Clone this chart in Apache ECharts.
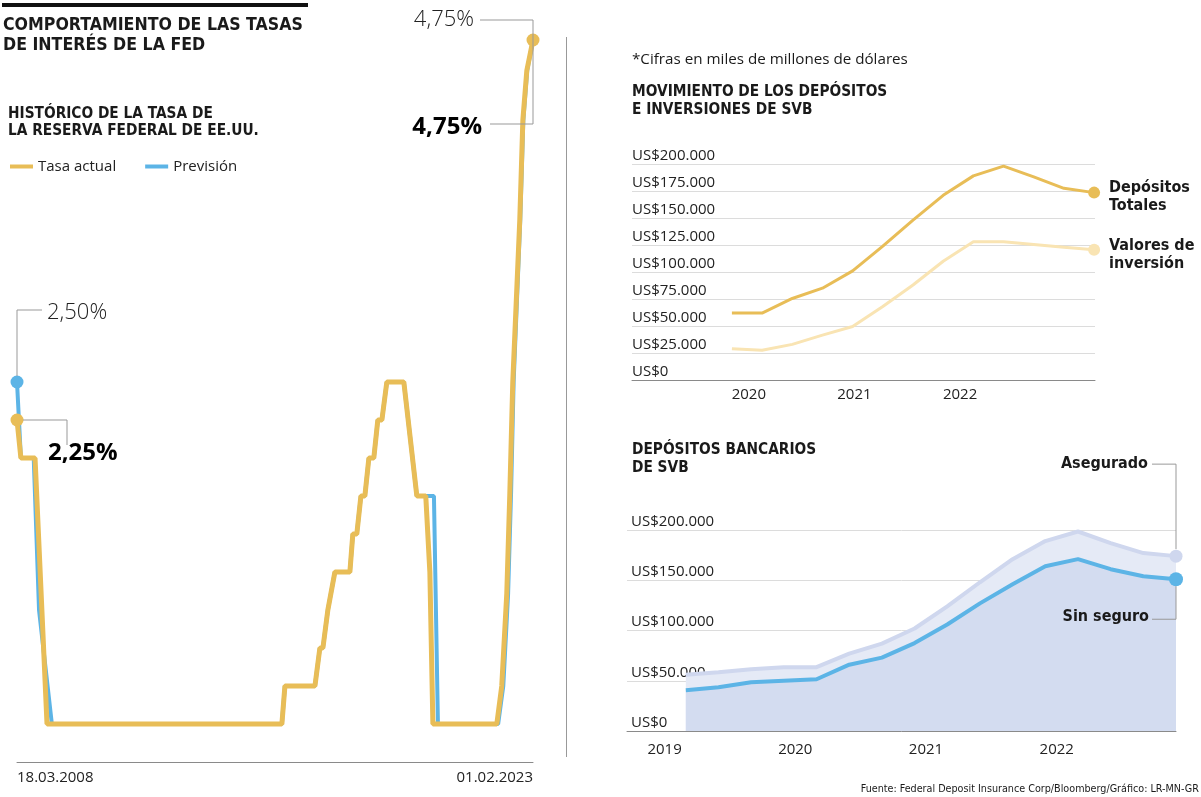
<!DOCTYPE html>
<html><head><meta charset="utf-8">
<script src="https://cdn.jsdelivr.net/npm/echarts@6.0.0/dist/echarts.min.js"></script>
<style>html,body{margin:0;padding:0;background:#fff}#c{width:1201px;height:797px}</style>
</head><body><div id="c"></div>
<script>
// ---------------- DATA ----------------
const fedTickLabels = ['18.03.2008', '01.02.2023'];
const tasaFechas = ['2008-03-18','2008-04-28','2008-09-24','2009-01-28','2015-11-06','2015-12-08','2016-10-19','2016-12-10','2017-01-11','2017-03-04','2017-03-25','2017-05-17','2017-10-22','2017-11-22','2018-01-03','2018-02-15','2018-03-29','2018-05-10','2018-07-01','2018-08-12','2018-09-24','2018-11-15','2019-05-13','2019-09-27','2019-12-30','2020-02-11','2020-03-14','2022-01-16','2022-03-09','2022-05-01','2022-06-02','2022-07-03','2022-09-15','2022-10-17','2022-11-28','2023-02-01'];
const tasaActual = [2.25,2.0,2.0,0.25,0.25,0.5,0.5,0.75,0.75,1.0,1.0,1.25,1.25,1.5,1.5,1.75,1.75,2.0,2.0,2.25,2.25,2.5,2.5,1.75,1.75,1.25,0.25,0.25,0.5,1.11,1.77,2.5,3.57,4.22,4.55,4.75];
const prevFechas = ['2008-03-18','2008-04-28','2008-09-10','2008-11-05','2009-03-20','2015-11-06','2015-12-08','2016-10-19','2016-12-10','2017-01-11','2017-03-04','2017-03-25','2017-05-17','2017-10-22','2017-11-22','2018-01-03','2018-02-15','2018-03-29','2018-05-10','2018-07-01','2018-08-12','2018-09-24','2018-11-15','2019-05-13','2019-09-27','2020-03-25','2020-05-06','2022-01-30','2022-03-25','2022-05-15','2022-06-15','2022-07-12','2022-09-20','2022-10-22','2022-12-02','2023-02-01'];
const prevision = [2.5,2.0,2.0,1.0,0.25,0.25,0.5,0.5,0.75,0.75,1.0,1.0,1.25,1.25,1.5,1.5,1.75,1.75,2.0,2.0,2.25,2.25,2.5,2.5,1.75,1.75,0.25,0.25,0.5,1.11,1.77,2.5,3.57,4.22,4.55,4.75];

const svbTrimestres = ['T4 2019','T1 2020','T2 2020','T3 2020','T4 2020','T1 2021','T2 2021','T3 2021','T4 2021','T1 2022','T2 2022','T3 2022','T4 2022'];
const depositosTotales = [62, 62, 75.5, 85, 101, 124, 148, 171, 189, 198, 188, 177.5, 173.5];
const valoresInversion = [29, 27.5, 33, 41.5, 49.5, 68, 88, 110, 128, 128, 125.5, 123, 120.5];
const anosArriba = ['2020', '2021', '2022'];
const ticksArriba = ['US$0','US$25.000','US$50.000','US$75.000','US$100.000','US$125.000','US$150.000','US$175.000','US$200.000'];
const etiquetasArriba = ['Depósitos\nTotales', 'Valores de\ninversión'];

const bancTrimestres = ['T1 2019','T2 2019','T3 2019','T4 2019','T1 2020','T2 2020','T3 2020','T4 2020','T1 2021','T2 2021','T3 2021','T4 2021','T1 2022','T2 2022','T3 2022','T4 2022'];
const asegurado = [56, 58.5, 61.5, 63.5, 63.5, 77, 87, 102, 124, 148, 171, 189, 198.5, 187, 177, 174];
const sinSeguro = [40.5, 43.5, 48.5, 50, 51.5, 66, 73, 87.5, 106, 127, 146, 164, 171, 161, 154, 151];
const anosAbajo = ['2019', '2020', '2021', '2022'];
const ticksAbajo = ['US$0','US$50.000','US$100.000','US$150.000','US$200.000'];

// ---------------- STYLE ----------------
const COND = '"DejaVu Sans Condensed", "Liberation Sans Narrow", sans-serif';
const REG = '"Open Sans", "Noto Sans", sans-serif';
const GOLD = '#E8BD57', PALE = '#F9E4B3', BLUE = '#5CB4E6';
const LAV_LINE = '#CFD7EE', LAV_BAND = '#E5EAF6', LAV_AREA = '#D3DCF0';
const AX = '#8a8a8a', GRID = '#dcdcdc', TXT = '#1a1a1a', LEAD = '#999';

const ts = s => { const [y, m, d] = s.split('-').map(Number); return Date.UTC(y, m - 1, d); };
const fedMin = ts('2008-03-18'), fedMax = ts('2023-02-01');
const pct = v => v.toFixed(2).replace('.', ',') + '%';

const topYearPos = [0.56, 4.06, 7.56];
const botYearPos = [-0.65, 3.35, 7.35, 11.35];
const nearestIdx = (arr, v) => { let b = 0; arr.forEach((a, i) => { if (Math.abs(a - v) < Math.abs(arr[b] - v)) b = i; }); return b; };

const chart = echarts.init(document.getElementById('c'), null, { renderer: 'canvas' });

const endSym = n => (val, p) => (p.dataIndex === 0 || p.dataIndex === n - 1) ? 'circle' : 'none';
const lastSym = n => (val, p) => (p.dataIndex === n - 1) ? 'circle' : 'none';

const option = {
  animation: false,
  backgroundColor: '#fff',
  legend: {
    data: ['Tasa actual', 'Previsión'],
    left: 10, top: 159, padding: 0,
    icon: 'rect', itemWidth: 23, itemHeight: 4, itemGap: 29,
    textStyle: { fontFamily: REG, fontSize: 15, color: '#222' },
    selectedMode: false
  },
  grid: [
    { left: 17, right: 668, top: 40, bottom: 35 },
    { left: 632, right: 106, top: 164, bottom: 417 },
    { left: 627, right: 25, top: 530, bottom: 66 }
  ],
  xAxis: [
    {
      gridIndex: 0, type: 'value', min: fedMin, max: fedMax,
      axisLine: { show: true, lineStyle: { color: AX, width: 1 } },
      axisTick: { show: false }, splitLine: { show: false },
      axisLabel: {
        customValues: [fedMin, fedMax], margin: 8,
        fontFamily: REG, fontSize: 15, color: '#222',
        alignMinLabel: 'left', alignMaxLabel: 'right',
        formatter: v => fedTickLabels[Math.abs(v - fedMin) < Math.abs(v - fedMax) ? 0 : 1]
      }
    },
    {
      gridIndex: 1, type: 'value', min: -3.31, max: 12.03,
      axisLine: { show: true, lineStyle: { color: AX, width: 1 } },
      axisTick: { show: false }, splitLine: { show: false },
      axisLabel: {
        customValues: topYearPos, margin: 7,
        fontFamily: REG, fontSize: 15, color: '#222',
        formatter: v => anosArriba[nearestIdx(topYearPos, v)]
      }
    },
    {
      gridIndex: 2, type: 'value', min: -1.8, max: 15,
      axisLine: { show: true, lineStyle: { color: AX, width: 1 } },
      axisTick: { show: false }, splitLine: { show: false },
      axisLabel: {
        customValues: botYearPos, margin: 11,
        fontFamily: REG, fontSize: 15, color: '#222',
        formatter: v => anosAbajo[nearestIdx(botYearPos, v)]
      }
    }
  ],
  yAxis: [
    { gridIndex: 0, type: 'value', min: 0, max: 4.75, show: false },
    {
      gridIndex: 1, type: 'value', min: 0, max: 200, interval: 25,
      axisLine: { show: false }, axisTick: { show: false },
      splitLine: { show: true, lineStyle: { color: GRID, width: 1 } },
      axisLabel: {
        inside: true, margin: 0, verticalAlign: 'bottom', padding: [0, 0, 1, 0],
        fontFamily: REG, fontSize: 15, color: '#222',
        formatter: v => ticksArriba[Math.round(v / 25)]
      }
    },
    {
      gridIndex: 2, type: 'value', min: 0, max: 200, interval: 50,
      axisLine: { show: false }, axisTick: { show: false },
      splitLine: { show: true, lineStyle: { color: GRID, width: 1 } },
      axisLabel: {
        inside: true, margin: 4, verticalAlign: 'bottom', padding: [0, 0, 1, 0],
        fontFamily: REG, fontSize: 15, color: '#222',
        formatter: v => ticksAbajo[Math.round(v / 50)]
      }
    }
  ],
  series: [
    {
      name: 'Previsión', type: 'line', xAxisIndex: 0, yAxisIndex: 0, z: 2,
      data: prevFechas.map((d, i) => [ts(d), prevision[i]]),
      lineStyle: { color: BLUE, width: 4 }, itemStyle: { color: BLUE },
      symbol: (v, p) => p.dataIndex === 0 ? 'circle' : 'none', symbolSize: 13, showSymbol: true,
      clip: false
    },
    {
      name: 'Tasa actual', type: 'line', xAxisIndex: 0, yAxisIndex: 0, z: 3,
      data: tasaFechas.map((d, i) => [ts(d), tasaActual[i]]),
      lineStyle: { color: GOLD, width: 5 }, itemStyle: { color: GOLD },
      symbol: endSym(tasaFechas.length), symbolSize: 13, showSymbol: true,
      clip: false
    },
    {
      name: 'Valores de inversión', type: 'line', xAxisIndex: 1, yAxisIndex: 1, z: 2,
      data: valoresInversion.map((v, i) => [i, v]),
      lineStyle: { color: PALE, width: 3 }, itemStyle: { color: PALE },
      symbol: lastSym(valoresInversion.length), symbolSize: 12, showSymbol: true,
      endLabel: {
        show: true, formatter: () => etiquetasArriba[1], distance: 15, offset: [0, 5],
        fontFamily: COND, fontWeight: 'bold', fontSize: 16, lineHeight: 18, color: TXT, align: 'left'
      },
      clip: false
    },
    {
      name: 'Depósitos Totales', type: 'line', xAxisIndex: 1, yAxisIndex: 1, z: 3,
      data: depositosTotales.map((v, i) => [i, v]),
      lineStyle: { color: GOLD, width: 3 }, itemStyle: { color: GOLD },
      symbol: lastSym(depositosTotales.length), symbolSize: 12, showSymbol: true,
      endLabel: {
        show: true, formatter: () => etiquetasArriba[0], distance: 15, offset: [0, 4],
        fontFamily: COND, fontWeight: 'bold', fontSize: 16, lineHeight: 18, color: TXT, align: 'left'
      },
      clip: false
    },
    {
      name: 'Asegurado', type: 'line', xAxisIndex: 2, yAxisIndex: 2, z: 2,
      data: asegurado.map((v, i) => [i, v]),
      lineStyle: { color: LAV_LINE, width: 4 }, itemStyle: { color: LAV_LINE },
      areaStyle: { color: LAV_BAND, opacity: 1 },
      symbol: lastSym(asegurado.length), symbolSize: 13, showSymbol: true,
      clip: false
    },
    {
      name: 'Sin seguro', type: 'line', xAxisIndex: 2, yAxisIndex: 2, z: 3,
      data: sinSeguro.map((v, i) => [i, v]),
      lineStyle: { color: BLUE, width: 4 }, itemStyle: { color: BLUE },
      areaStyle: { color: LAV_AREA, opacity: 1 },
      symbol: lastSym(sinSeguro.length), symbolSize: 14, showSymbol: true,
      clip: false
    }
  ]
};
chart.setOption(option);

// ---------------- ANNOTATIONS ----------------
const px = (g, x, y) => chart.convertToPixel({ xAxisIndex: g, yAxisIndex: g }, [x, y]);
const txt = (text, x, y, o) => ({
  type: 'text', x, y, z: 100,
  style: Object.assign({ text, fill: TXT, fontFamily: REG, fontSize: 15, align: 'left', verticalAlign: 'middle' }, o || {})
});
const poly = (pts) => ({ type: 'polyline', z: 90, shape: { points: pts }, style: { stroke: LEAD, lineWidth: 1, fill: null } });

const bS = px(0, ts(prevFechas[0]), prevision[0]);
const gS = px(0, ts(tasaFechas[0]), tasaActual[0]);
const gE = px(0, ts(tasaFechas[tasaFechas.length - 1]), tasaActual[tasaActual.length - 1]);
const aE = px(2, asegurado.length - 1, asegurado[asegurado.length - 1]);
const sE = px(2, sinSeguro.length - 1, sinSeguro[sinSeguro.length - 1]);

const graphics = [
  { type: 'rect', z: 100, shape: { x: 2, y: 3, width: 306, height: 4 }, style: { fill: '#111' } },
  txt('COMPORTAMIENTO DE LAS TASAS\nDE INTERÉS DE LA FED', 3, 35, { fontFamily: COND, fontWeight: 'bold', fontSize: 17.6, lineHeight: 20 }),
  txt('HISTÓRICO DE LA TASA DE\nLA RESERVA FEDERAL DE EE.UU.', 8, 123, { fontFamily: COND, fontWeight: 'bold', fontSize: 15.3, lineHeight: 17 }),
  // left annotations
  poly([[bS[0], bS[1] - 6], [bS[0], bS[1] - 72], [bS[0] + 25, bS[1] - 72]]),
  txt(pct(prevision[0]), bS[0] + 30, bS[1] - 69, { fontSize: 22, fontWeight: 300, fill: '#222' }),
  poly([[gS[0] + 6, gS[1]], [gS[0] + 50, gS[1]], [gS[0] + 50, gS[1] + 25]]),
  txt(pct(tasaActual[0]), gS[0] + 31, gS[1] + 33, { fontSize: 24, fontWeight: 'bold', fill: '#000' }),
  poly([[gE[0] - 53, gE[1] - 20], [gE[0], gE[1] - 20], [gE[0], gE[1] + 84], [gE[0] - 43, gE[1] + 84]]),
  txt(pct(prevision[prevision.length - 1]), gE[0] - 59, gE[1] - 20, { fontSize: 22, fontWeight: 300, fill: '#222', align: 'right' }),
  txt(pct(tasaActual[tasaActual.length - 1]), gE[0] - 51, gE[1] + 87, { fontSize: 24, fontWeight: 'bold', fill: '#000', align: 'right' }),
  // separator
  { type: 'line', z: 90, shape: { x1: 566.5, y1: 37, x2: 566.5, y2: 757 }, style: { stroke: LEAD, lineWidth: 1 } },
  // right texts
  txt('*Cifras en miles de millones de dólares', 632, 60, { fontSize: 15.2 }),
  txt('MOVIMIENTO DE LOS DEPÓSITOS\nE INVERSIONES DE SVB', 632, 101, { fontFamily: COND, fontWeight: 'bold', fontSize: 15.3, lineHeight: 18 }),
  txt('DEPÓSITOS BANCARIOS\nDE SVB', 632, 459, { fontFamily: COND, fontWeight: 'bold', fontSize: 15.3, lineHeight: 18 }),
  poly([[aE[0] - 24, aE[1] - 92], [aE[0], aE[1] - 92], [aE[0], aE[1] - 7]]),
  txt('Asegurado', aE[0] - 28, aE[1] - 92, { fontFamily: COND, fontWeight: 'bold', fontSize: 16, align: 'right' }),
  poly([[sE[0], sE[1] + 7], [sE[0], sE[1] + 40], [sE[0] - 24, sE[1] + 40]]),
  txt('Sin seguro', sE[0] - 27, sE[1] + 38, { fontFamily: COND, fontWeight: 'bold', fontSize: 16, align: 'right' }),
  txt('Fuente: Federal Deposit Insurance Corp/Bloomberg/Gráfico: LR-MN-GR', 1199, 789, { fontFamily: COND, fontSize: 10.7, align: 'right' })
];
chart.setOption({ graphic: graphics });
</script>
</body></html>
